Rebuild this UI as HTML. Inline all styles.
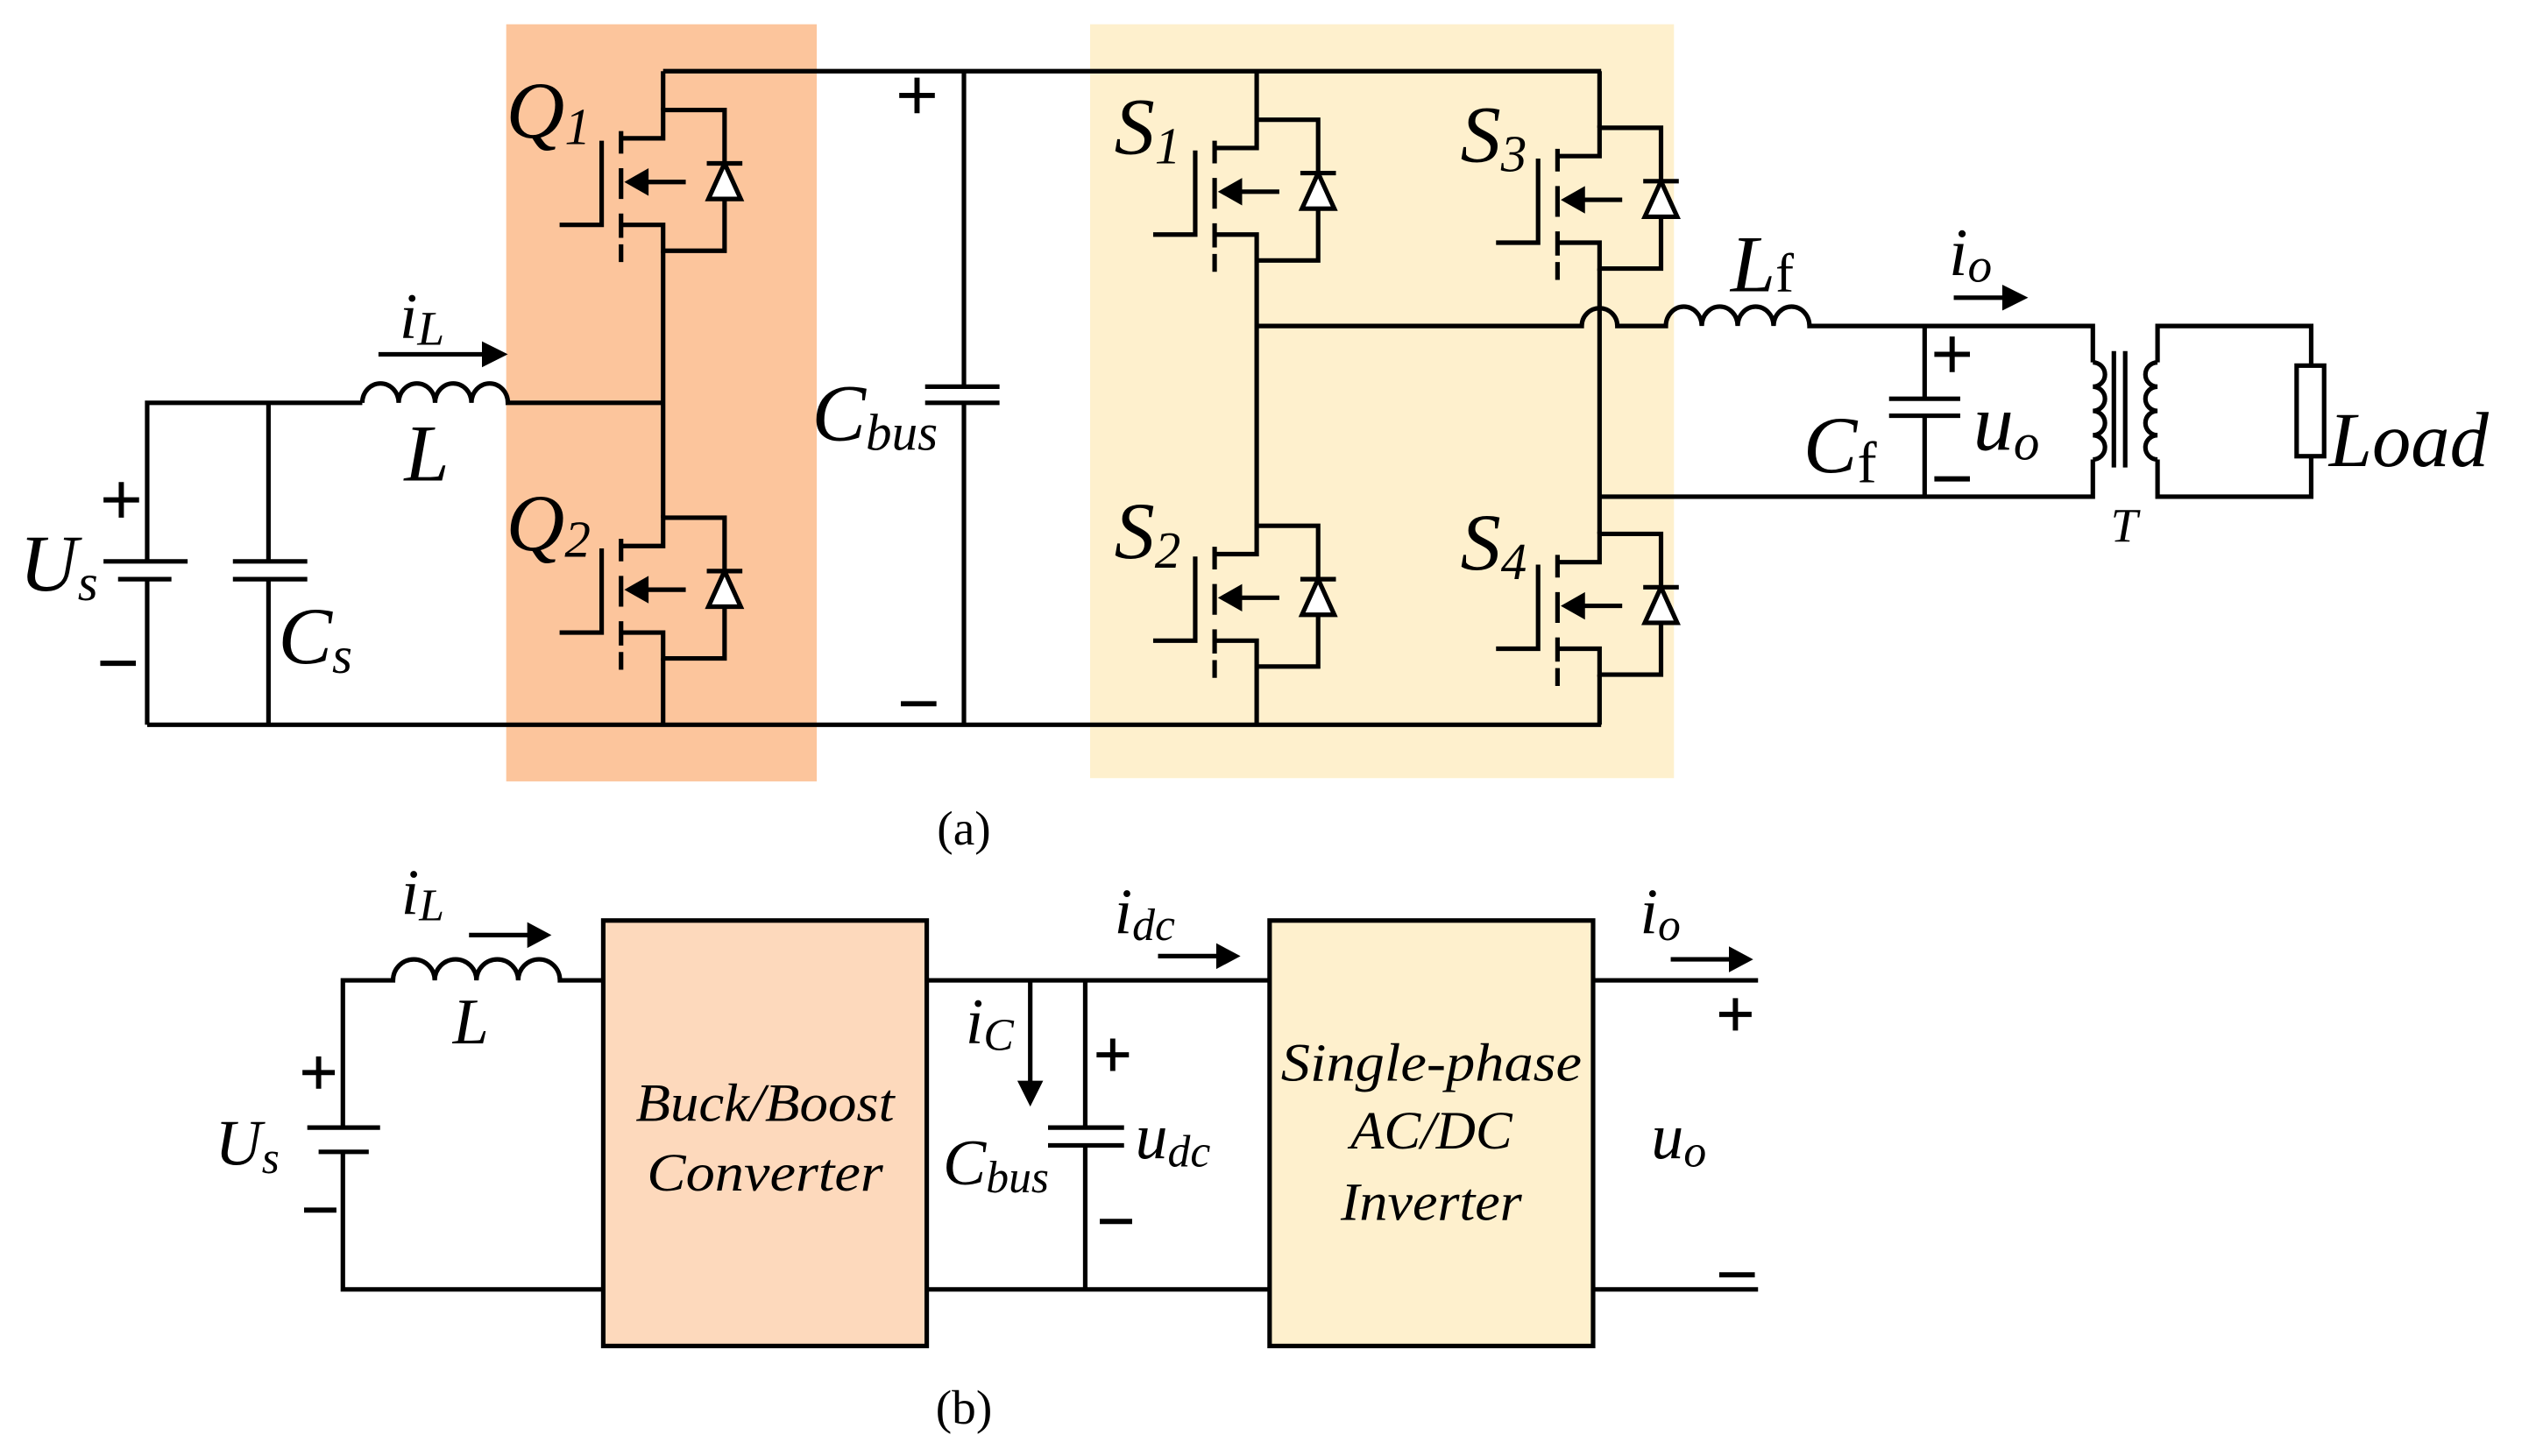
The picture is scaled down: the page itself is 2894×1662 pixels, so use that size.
<!DOCTYPE html>
<html><head><meta charset="utf-8"><style>
html,body{margin:0;padding:0;background:#fff}
svg{display:block}
</style></head><body>
<svg width="2894" height="1662" viewBox="0 0 1568 900" preserveAspectRatio="none" xmlns="http://www.w3.org/2000/svg" font-family="'Liberation Serif','Times New Roman',serif" font-style="italic">
<defs>
<g id="fet" fill="none" stroke="#000" stroke-width="2.8">
  <path d="M384,85.5 H410 V68 H448 V155 H410 V139 H384"/>
  <path d="M384,81 V95 M384,104 V123 M384,132 V147 M384,151 V162"/>
  <path d="M372,87 V139 H346"/>
  <line x1="398" y1="112.5" x2="424" y2="112.5"/>
  <polygon points="386,112.5 401,104 401,121" fill="#000" stroke="none"/>
  <line x1="437" y1="101" x2="459" y2="101"/>
  <polygon points="448,101 438,123 458,123" fill="#fff"/>
</g>
</defs>
<rect x="313" y="15" width="192" height="468" fill="#fcc59c"/>
<rect x="674" y="15" width="361" height="466" fill="#fef0cd"/>

<g fill="none" stroke="#000" stroke-width="2.8">
  <path d="M410,44 H990"/>
  <path d="M91,448 H990"/>
  <path d="M410,44 V68 M410,155 V320 M410,407 V448"/>
  <path d="M777,44 V74 M777,161 V325 M777,412 V448"/>
  <path d="M989,44 V79 M989,166 V330 M989,417 V448"/>
  <path d="M91,448 V358 M91,347 V249 H224"/>
  <path d="M64,347 H116 M73,358 H106"/>
  <path d="M166,249 V347 M166,358 V448"/>
  <path d="M144,347 H190 M144,358 H190"/>
  <path d="M224,249 a11.25,12 0 0 1 22.5,0 a11.25,12 0 0 1 22.5,0 a11.25,12 0 0 1 22.5,0 a11.25,12 0 0 1 22.5,0 H410"/>
  <path d="M596,44 V239 M596,249 V448 M572,239 H618 M572,249 H618"/>
  <path d="M777,201.5 H978 a11,11 0 0 1 22,0 H1030 a11.1,12 0 0 1 22.2,0 a11.1,12 0 0 1 22.2,0 a11.1,12 0 0 1 22.2,0 a11.1,12 0 0 1 22.2,0 H1294 V224"/>
  <path d="M989,307 H1294 V284"/>
  <path d="M1294,224 a7.4,7.4 0 0 1 0,15 a7.4,7.4 0 0 1 0,15 a7.4,7.4 0 0 1 0,15 a7.4,7.4 0 0 1 0,15"/>
  <path d="M1307,217 V289 M1314,217 V289"/>
  <path d="M1334,224 a7.4,7.4 0 0 0 0,15 a7.4,7.4 0 0 0 0,15 a7.4,7.4 0 0 0 0,15 a7.4,7.4 0 0 0 0,15"/>
  <path d="M1334,224 V201.5 H1429 V226 M1429,282 V307 H1334 V284"/>
  <rect x="1420" y="226" width="17" height="56"/>
  <path d="M1190,201.5 V246.5 M1190,257 V307 M1168,246.5 H1212 M1168,257 H1212"/>
</g>
<use href="#fet"/>
<use href="#fet" transform="translate(0,252)"/>
<use href="#fet" transform="translate(367,6)"/>
<use href="#fet" transform="translate(367,257)"/>
<use href="#fet" transform="translate(579,11)"/>
<use href="#fet" transform="translate(579,262)"/>

<g stroke="#000" stroke-width="2.8" fill="#000">
  <line x1="234" y1="219" x2="300" y2="219"/><polygon points="314,219 298,211 298,227" stroke="none"/>
  <line x1="1208" y1="184" x2="1240" y2="184"/><polygon points="1254,184 1238,176 1238,192" stroke="none"/>
</g>

<g font-size="50">
  <text x="313" y="85">Q<tspan font-size="32" dy="4">1</tspan></text>
  <text x="313" y="340">Q<tspan font-size="32" dy="4">2</tspan></text>
  <text x="689" y="95">S<tspan font-size="32" dy="6">1</tspan></text>
  <text x="689" y="345">S<tspan font-size="32" dy="6">2</tspan></text>
  <text x="903" y="100">S<tspan font-size="32" dy="6">3</tspan></text>
  <text x="903" y="352">S<tspan font-size="32" dy="6">4</tspan></text>
  <text x="12" y="365">U<tspan font-size="32" dy="6">s</tspan></text>
  <text x="172" y="410">C<tspan font-size="32" dy="6">s</tspan></text>
  <text x="250" y="297">L</text>
  <text x="247" y="209" font-size="40">i<tspan font-size="30" dy="4">L</tspan></text>
  <text x="502" y="272">C<tspan font-size="32" dy="6">bus</tspan></text>
  <text x="1070" y="180">L<tspan font-size="34" font-style="normal">f</tspan></text>
  <text x="1205" y="170" font-size="42">i<tspan font-size="30" dy="4">o</tspan></text>
  <text x="1115" y="292">C<tspan font-size="36" dy="6" font-style="normal">f</tspan></text>
  <text x="1220" y="278">u<tspan font-size="32" dy="6">o</tspan></text>
  <text x="1440" y="288" font-size="48">Load</text>
  <text x="1305" y="335" font-size="30">T</text>
</g>
<!-- plus / minus signs -->
<g stroke="#000" stroke-width="3.2">
  <path d="M556,59 H578 M567,48 V70"/>
  <path d="M64,309 H86 M75,298 V320"/>
  <path d="M1196,219 H1218 M1207,208 V230"/>
  <line x1="557" y1="435" x2="579" y2="435"/>
  <line x1="62" y1="410" x2="84" y2="410"/>
  <line x1="1196" y1="296" x2="1218" y2="296"/>
  <path d="M187,663 H207 M197,653 V673"/>
  <path d="M678,652 H698 M688,642 V662"/>
  <path d="M1063,627 H1083 M1073,617 V637"/>
  <line x1="188" y1="748" x2="208" y2="748"/>
  <line x1="680" y1="755" x2="700" y2="755"/>
  <line x1="1063" y1="788" x2="1085" y2="788"/>
</g>
<text x="596" y="522" font-size="30" font-style="normal" text-anchor="middle">(a)</text>

<rect x="373" y="569" width="200" height="263" fill="#fdd9bc" stroke="#000" stroke-width="2.8"/>
<rect x="785" y="569" width="200" height="263" fill="#fef0cd" stroke="#000" stroke-width="2.8"/>
<g fill="none" stroke="#000" stroke-width="2.8">
  <path d="M212,697 V606 H243 a12.9,13 0 0 1 25.8,0 a12.9,13 0 0 1 25.8,0 a12.9,13 0 0 1 25.8,0 a12.9,13 0 0 1 25.8,0 H373"/>
  <path d="M212,712 V797 H373"/>
  <path d="M190,697 H235 M197,712 H228"/>
  <path d="M573,606 H785 M573,797 H785"/>
  <path d="M671,606 V697 M671,708 V797 M648,697 H695 M648,708 H695"/>
  <path d="M985,606 H1087 M985,797 H1087"/>
</g>
<g stroke="#000" stroke-width="2.8" fill="#000">
  <line x1="290" y1="578" x2="328" y2="578"/><polygon points="341,578 326,570 326,586" stroke="none"/>
  <line x1="716" y1="591" x2="754" y2="591"/><polygon points="767,591 752,583 752,599" stroke="none"/>
  <line x1="1033" y1="593" x2="1071" y2="593"/><polygon points="1084,593 1069,585 1069,601" stroke="none"/>
  <line x1="637" y1="607" x2="637" y2="670"/><polygon points="637,684 629,668 645,668" stroke="none"/>
</g>
<g font-size="40">
  <text x="133" y="720">U<tspan font-size="28" dy="5">s</tspan></text>
  <text x="248" y="565">i<tspan font-size="28" dy="4">L</tspan></text>
  <text x="280" y="645">L</text>
  <text x="597" y="645">i<tspan font-size="28" dy="4">C</tspan></text>
  <text x="583" y="732">C<tspan font-size="28" dy="5">bus</tspan></text>
  <text x="702" y="716">u<tspan font-size="28" dy="5">dc</tspan></text>
  <text x="689" y="577">i<tspan font-size="28" dy="4">dc</tspan></text>
  <text x="1014" y="577">i<tspan font-size="28" dy="4">o</tspan></text>
  <text x="1021" y="716">u<tspan font-size="28" dy="5">o</tspan></text>
</g>
<g font-size="33" text-anchor="middle">
  <text x="473" y="693" textLength="160" lengthAdjust="spacingAndGlyphs">Buck/Boost</text>
  <text x="473" y="736" textLength="146" lengthAdjust="spacingAndGlyphs">Converter</text>
  <text x="885" y="668" textLength="186" lengthAdjust="spacingAndGlyphs">Single-phase</text>
  <text x="885" y="710" textLength="100" lengthAdjust="spacingAndGlyphs">AC/DC</text>
  <text x="885" y="754" textLength="112" lengthAdjust="spacingAndGlyphs">Inverter</text>
</g>
<text x="596" y="880" font-size="30" font-style="normal" text-anchor="middle">(b)</text>
</svg>
</body></html>
